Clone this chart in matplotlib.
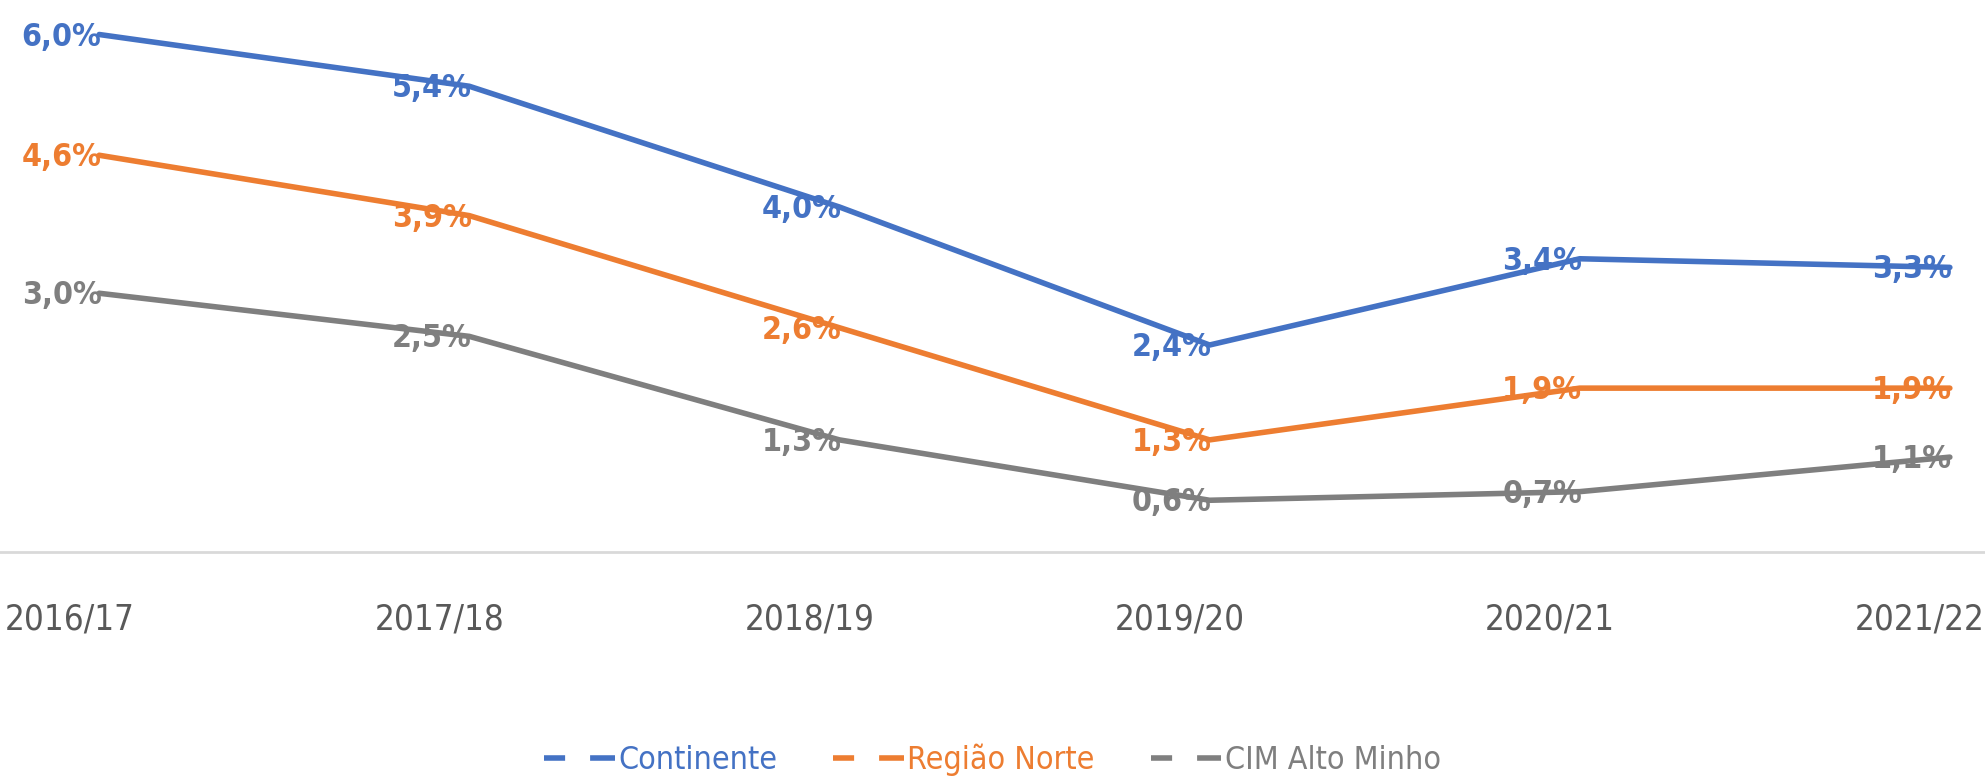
import matplotlib
matplotlib.use("Agg")
import matplotlib.pyplot as plt
import matplotlib.transforms as mtransforms
from matplotlib.lines import Line2D

plt.rcParams['font.family'] = ['DejaVu Sans']
plt.rcParams['font.stretch'] = 'condensed'

# data
anos = ["2016/17", "2017/18", "2018/19", "2019/20", "2020/21", "2021/22"]
continente = [6.0, 5.4, 4.0, 2.4, 3.4, 3.3]
regiao_norte = [4.6, 3.9, 2.6, 1.3, 1.9, 1.9]
alto_minho = [3.0, 2.5, 1.3, 0.6, 0.7, 1.1]

series = [("Continente", continente, "#4472C4"),
          ("Região Norte", regiao_norte, "#ED7D31"),
          ("CIM Alto Minho", alto_minho, "#7F7F7F")]

fig = plt.figure(figsize=(19.85, 7.83), dpi=100)
ax = fig.add_axes([0, 0.295, 1, 0.705])

x = list(range(len(anos)))
for nome, vals, cor in series:
    ax.plot(x, vals, color=cor, lw=4, solid_capstyle='round')
    for xi, v in zip(x, vals):
        ax.text(xi + 0.006, v - 0.03, f"{v:.1f}%".replace(".", ","), color=cor,
                fontsize=23, fontweight='bold', ha='right', va='center')

ax.set_xlim(-0.268, 5.095)
ax.set_ylim(0, 6.4)
ax.set_xticks(x)
ax.set_xticklabels(anos, fontsize=25, color="#595959")
ax.tick_params(axis='x', length=0, pad=36)
# labels sit a little left of the points in the original
shift = mtransforms.ScaledTranslation(-0.3, 0, fig.dpi_scale_trans)
for lbl in ax.get_xticklabels():
    lbl.set_transform(lbl.get_transform() + shift)
ax.set_yticks([])
for s in ['top', 'right', 'left']:
    ax.spines[s].set_visible(False)
ax.spines['bottom'].set_color("#D9D9D9")
ax.spines['bottom'].set_linewidth(2)

handles = [Line2D([0], [0], color=c, lw=4, linestyle=(0, (3.8, 4.5, 6, 10)))
           for _, _, c in series]
leg = fig.legend(handles, [s[0] for s in series], loc='center', bbox_to_anchor=(0.5, 0.03),
                 ncol=3, frameon=False, fontsize=23, handlelength=2.2, handletextpad=0.12,
                 columnspacing=1.75)
for t, (_, _, c) in zip(leg.get_texts(), series):
    t.set_color(c)

fig.savefig("out.png", dpi=100)
